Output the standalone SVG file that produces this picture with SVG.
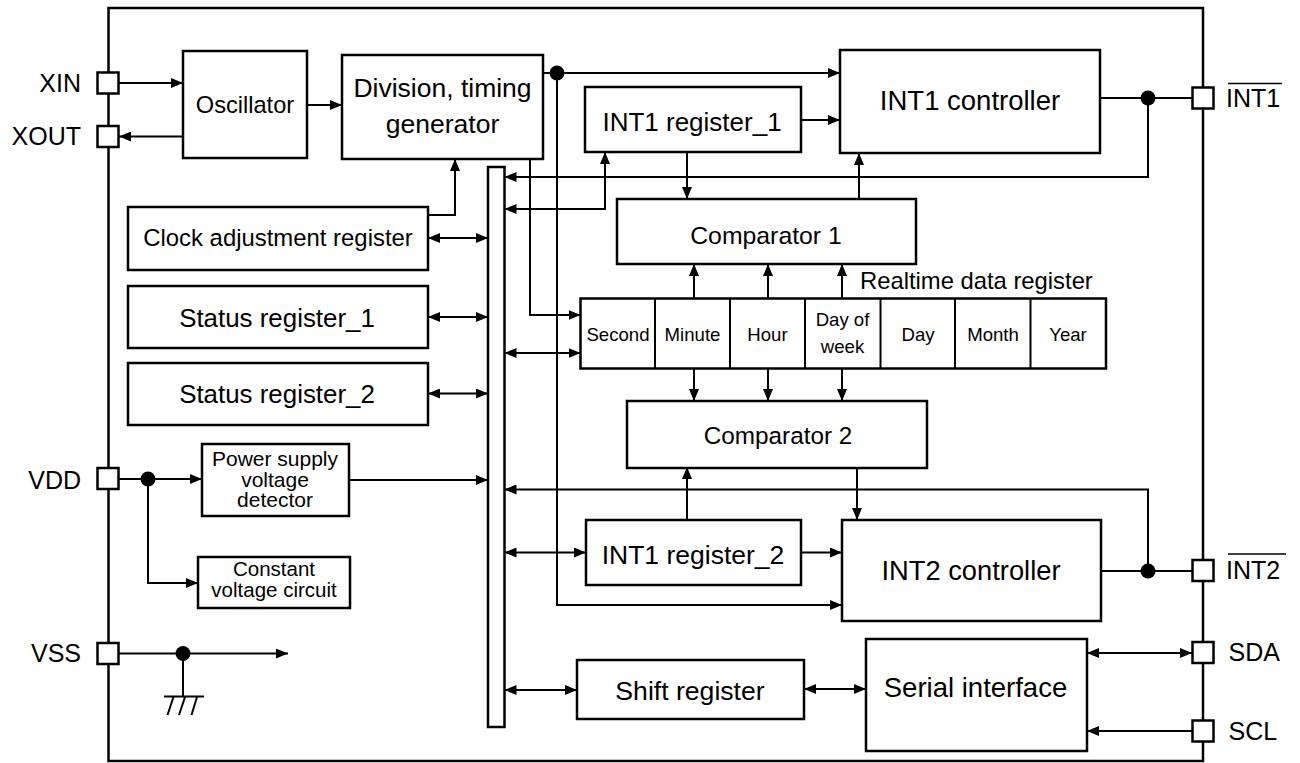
<svg xmlns="http://www.w3.org/2000/svg" width="1300" height="763" viewBox="0 0 1300 763">
<style>
.box{fill:#fff;stroke:#000;stroke-width:2.5}
.pin{fill:#fff;stroke:#000;stroke-width:2.5}
.ln{fill:none;stroke:#000;stroke-width:2}
.a{marker-end:url(#ah)}
.b{marker-end:url(#ah);marker-start:url(#ah)}
text{font-family:"Liberation Sans",Arial,sans-serif;fill:#000}
.c{text-anchor:middle}
</style>
<defs>
<marker id="ah" viewBox="0 0 12 10" refX="12" refY="5" markerWidth="12" markerHeight="10" markerUnits="userSpaceOnUse" orient="auto-start-reverse">
<path d="M0,0 L12,5 L0,10 z" fill="#000"/>
</marker>
</defs>
<rect width="1300" height="763" fill="#fff"/>
<g id="chip">
<rect x="108.5" y="8" width="1094.5" height="753" fill="none" stroke="#000" stroke-width="2.5"/>
</g>
<g id="connectors">
<line class="ln a" x1="119" y1="83" x2="183" y2="83"/>
<line class="ln a" x1="183" y1="136.5" x2="119" y2="136.5"/>
<line class="ln a" x1="307" y1="105" x2="342" y2="105"/>
<line class="ln a" x1="543" y1="73" x2="840" y2="73"/>
<polyline class="ln a" points="557,73 557,605 842,605"/>
<polyline class="ln a" points="530,159 530,315 580.5,315"/>
<polyline class="ln a" points="428,215 455,215 455,159"/>
<line class="ln b" x1="428" y1="238" x2="488" y2="238"/>
<line class="ln b" x1="428" y1="317" x2="488" y2="317"/>
<line class="ln b" x1="428" y1="393.5" x2="488" y2="393.5"/>
<line class="ln a" x1="349" y1="480" x2="488" y2="480"/>
<line class="ln a" x1="119" y1="479" x2="202" y2="479"/>
<polyline class="ln a" points="148,479 148,583 198,583"/>
<line class="ln a" x1="119" y1="653.5" x2="288" y2="653.5"/>
<line class="ln" x1="183" y1="653.5" x2="183" y2="696.5"/>
<line class="ln" x1="164" y1="696.5" x2="204" y2="696.5"/>
<line class="ln" x1="173.5" y1="697" x2="167.5" y2="715"/>
<line class="ln" x1="185" y1="697" x2="179" y2="715"/>
<line class="ln" x1="197" y1="697" x2="191.5" y2="715"/>
<line class="ln" x1="1100" y1="98" x2="1192" y2="98"/>
<polyline class="ln a" points="1148,98 1148,177 504.5,177"/>
<polyline class="ln b" points="504.5,209 605,209 605,152"/>
<line class="ln a" x1="801" y1="120" x2="840" y2="120"/>
<line class="ln a" x1="687" y1="152" x2="687" y2="199"/>
<line class="ln a" x1="859" y1="199" x2="859" y2="153"/>
<line class="ln a" x1="694" y1="298.5" x2="694" y2="264"/>
<line class="ln a" x1="768" y1="298.5" x2="768" y2="264"/>
<line class="ln a" x1="842" y1="298.5" x2="842" y2="264"/>
<line class="ln b" x1="504.5" y1="353" x2="580.5" y2="353"/>
<line class="ln a" x1="694" y1="368.5" x2="694" y2="401"/>
<line class="ln a" x1="768" y1="368.5" x2="768" y2="401"/>
<line class="ln a" x1="842" y1="368.5" x2="842" y2="401"/>
<line class="ln a" x1="687" y1="520" x2="687" y2="467"/>
<line class="ln a" x1="857" y1="467" x2="857" y2="520"/>
<line class="ln" x1="1101" y1="571" x2="1192" y2="571"/>
<polyline class="ln a" points="1148,571 1148,489.5 504.5,489.5"/>
<line class="ln b" x1="504.5" y1="552.5" x2="586" y2="552.5"/>
<line class="ln a" x1="801" y1="552.5" x2="842" y2="552.5"/>
<line class="ln b" x1="504.5" y1="690" x2="577" y2="690"/>
<line class="ln b" x1="804" y1="689" x2="866" y2="689"/>
<line class="ln b" x1="1087" y1="653" x2="1192" y2="653"/>
<line class="ln a" x1="1192" y1="731" x2="1087" y2="731"/>
<circle cx="557" cy="73" r="7.5"/>
<circle cx="1148" cy="98" r="7.5"/>
<circle cx="1148" cy="571" r="7.5"/>
<circle cx="148" cy="479" r="7.5"/>
<circle cx="183" cy="653.5" r="7.5"/>
</g>
<g id="bus"><rect class="box" x="488" y="167" width="16.5" height="560"/></g>
<g id="pin-xin"><rect class="pin" x="97.5" y="72.5" width="21" height="21"/><text x="81" y="92" font-size="25" text-anchor="end">XIN</text></g>
<g id="pin-xout"><rect class="pin" x="97.5" y="126" width="21" height="21"/><text x="81" y="145" font-size="25" text-anchor="end">XOUT</text></g>
<g id="pin-vdd"><rect class="pin" x="97.5" y="468" width="21" height="21"/><text x="81" y="488.5" font-size="25" text-anchor="end">VDD</text></g>
<g id="pin-vss"><rect class="pin" x="97.5" y="643" width="21" height="21"/><text x="81" y="662" font-size="25" text-anchor="end">VSS</text></g>
<g id="pin-int1"><rect class="pin" x="1192.5" y="87.5" width="21" height="21"/><text x="1226" y="107" font-size="25">INT1</text><line x1="1228" y1="83.5" x2="1282" y2="83.5" stroke="#000" stroke-width="1.5"/></g>
<g id="pin-int2"><rect class="pin" x="1192.5" y="560" width="21" height="21"/><text x="1226" y="579" font-size="25">INT2</text><line x1="1228" y1="554" x2="1286" y2="554" stroke="#000" stroke-width="1.5"/></g>
<g id="pin-sda"><rect class="pin" x="1192.5" y="642" width="21" height="21"/><text x="1228.5" y="661" font-size="25">SDA</text></g>
<g id="pin-scl"><rect class="pin" x="1192.5" y="720.5" width="21" height="21"/><text x="1228.5" y="740" font-size="25">SCL</text></g>
<g id="oscillator"><rect class="box" x="183" y="51" width="124" height="107"/><text class="c" x="245" y="113" font-size="23.6">Oscillator</text></g>
<g id="division"><rect class="box" x="342" y="55" width="201" height="104"/><text class="c" x="442.5" y="96.5" font-size="26.5">Division, timing</text><text class="c" x="442.5" y="132.5" font-size="26.5">generator</text></g>
<g id="int1-register-1"><rect class="box" x="585" y="87" width="216" height="65"/><text class="c" x="692" y="130.5" font-size="26">INT1 register_1</text></g>
<g id="int1-controller"><rect class="box" x="840" y="50" width="260" height="103"/><text class="c" x="970" y="110" font-size="27.5">INT1 controller</text></g>
<g id="clock-adj"><rect class="box" x="128" y="207" width="300" height="63"/><text class="c" x="278" y="246" font-size="23.9">Clock adjustment register</text></g>
<g id="status-1"><rect class="box" x="128" y="286" width="300" height="62"/><text class="c" x="277" y="327" font-size="25.9">Status register_1</text></g>
<g id="status-2"><rect class="box" x="128" y="363" width="300" height="62"/><text class="c" x="277" y="403" font-size="25.9">Status register_2</text></g>
<g id="comparator-1"><rect class="box" x="617" y="199" width="299" height="65"/><text class="c" x="766" y="243.5" font-size="24.8">Comparator 1</text></g>
<g id="realtime-register">
<text x="860" y="288.5" font-size="23.8">Realtime data register</text>
<rect class="box" x="580.5" y="298.5" width="525.5" height="70"/>
<g class="ln" stroke-width="2.5"><line x1="655" y1="298.5" x2="655" y2="368.5"/><line x1="730" y1="298.5" x2="730" y2="368.5"/><line x1="805" y1="298.5" x2="805" y2="368.5"/><line x1="880.5" y1="298.5" x2="880.5" y2="368.5"/><line x1="955" y1="298.5" x2="955" y2="368.5"/><line x1="1030.5" y1="298.5" x2="1030.5" y2="368.5"/></g>
<g font-size="18.6" text-anchor="middle"><text x="618" y="340.5">Second</text><text x="692.5" y="340.5">Minute</text><text x="767.5" y="340.5">Hour</text><text x="842.5" y="326">Day of</text><text x="842.5" y="352.5">week</text><text x="918" y="340.5">Day</text><text x="993" y="340.5">Month</text><text x="1068" y="340.5">Year</text></g>
</g>
<g id="comparator-2"><rect class="box" x="627" y="401" width="300" height="67"/><text class="c" x="778" y="443.5" font-size="24.3">Comparator 2</text></g>
<g id="power-supply"><rect class="box" x="202" y="444" width="147" height="72"/><text class="c" x="275" y="465.5" font-size="21">Power supply</text><text class="c" x="275" y="486.5" font-size="21">voltage</text><text class="c" x="275" y="507" font-size="21">detector</text></g>
<g id="constant-voltage"><rect class="box" x="198" y="557" width="152" height="51"/><text class="c" x="274" y="576" font-size="20.5">Constant</text><text class="c" x="274" y="597" font-size="20.5">voltage circuit</text></g>
<g id="int1-register-2"><rect class="box" x="586" y="520" width="215" height="65"/><text class="c" x="693" y="563.5" font-size="26.5">INT1 register_2</text></g>
<g id="int2-controller"><rect class="box" x="842" y="520" width="259" height="101"/><text class="c" x="971" y="580" font-size="27.3">INT2 controller</text></g>
<g id="shift-register"><rect class="box" x="577" y="660" width="227" height="59"/><text class="c" x="690" y="700" font-size="26.6">Shift register</text></g>
<g id="serial-interface"><rect class="box" x="866" y="639" width="221" height="112"/><text class="c" x="975.5" y="697" font-size="27.5">Serial interface</text></g>
</svg>
